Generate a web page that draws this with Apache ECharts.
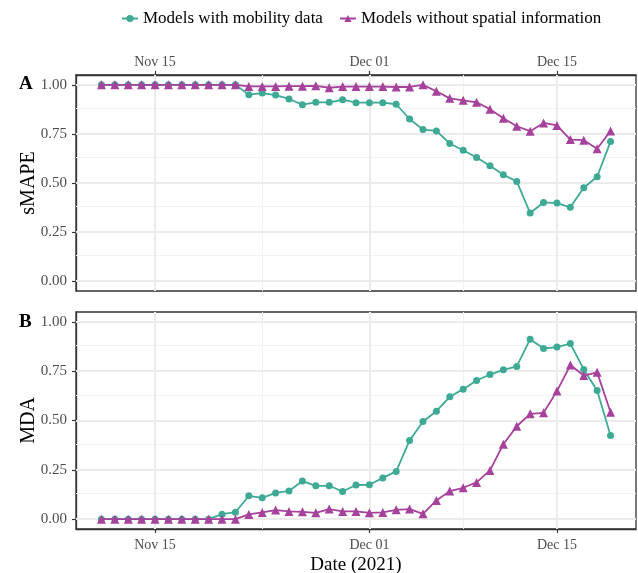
<!DOCTYPE html>
<html>
<head>
<meta charset="utf-8">
<script src="https://cdn.jsdelivr.net/npm/echarts@6/dist/echarts.min.js"></script>
<style>
  html, body { margin: 0; padding: 0; background: #fff; }
  #chart { width: 638px; height: 573px; }
</style>
</head>
<body>
<div id="chart"></div>
<script>
// daily forecast dates
const dates = [
  '2021-11-11', '2021-11-12', '2021-11-13', '2021-11-14', '2021-11-15', '2021-11-16',
  '2021-11-17', '2021-11-18', '2021-11-19', '2021-11-20', '2021-11-21', '2021-11-22',
  '2021-11-23', '2021-11-24', '2021-11-25', '2021-11-26', '2021-11-27', '2021-11-28',
  '2021-11-29', '2021-11-30', '2021-12-01', '2021-12-02', '2021-12-03', '2021-12-04',
  '2021-12-05', '2021-12-06', '2021-12-07', '2021-12-08', '2021-12-09', '2021-12-10',
  '2021-12-11', '2021-12-12', '2021-12-13', '2021-12-14', '2021-12-15', '2021-12-16',
  '2021-12-17', '2021-12-18', '2021-12-19'
];

const smapeMobility = [
  1, 1, 1, 1, 1, 1, 1, 1, 1, 1, 1,
  0.950, 0.958, 0.948, 0.928, 0.899, 0.911, 0.911, 0.924, 0.909,
  0.909, 0.909, 0.901, 0.826, 0.772, 0.765, 0.701, 0.667, 0.630, 0.588,
  0.542, 0.508, 0.347, 0.401, 0.398, 0.376, 0.476, 0.532, 0.711
];
const smapeNoSpatial = [
  1, 1, 1, 1, 1, 1, 1, 1, 1, 1, 1,
  0.992, 0.992, 0.992, 0.993, 0.993, 0.995, 0.985, 0.991, 0.991,
  0.991, 0.991, 0.989, 0.989, 1.000, 0.967, 0.931, 0.921, 0.911, 0.876,
  0.830, 0.789, 0.764, 0.806, 0.793, 0.721, 0.718, 0.674, 0.765
];
const mdaMobility = [
  0, 0, 0, 0, 0, 0, 0, 0, 0,
  0.025, 0.035, 0.118, 0.108, 0.133, 0.143, 0.193, 0.169, 0.169, 0.140, 0.173,
  0.174, 0.209, 0.242, 0.399, 0.495, 0.547, 0.620, 0.659, 0.703, 0.733,
  0.757, 0.774, 0.912, 0.865, 0.872, 0.890, 0.759, 0.652, 0.424
];
const mdaNoSpatial = [
  0, 0, 0, 0, 0, 0, 0, 0, 0, 0, 0,
  0.024, 0.034, 0.046, 0.039, 0.037, 0.032, 0.051, 0.039, 0.039,
  0.032, 0.034, 0.047, 0.051, 0.027, 0.095, 0.142, 0.159, 0.186, 0.247,
  0.380, 0.471, 0.534, 0.539, 0.649, 0.781, 0.728, 0.744, 0.542
];

const xMajor = ['2021-11-15', '2021-12-01', '2021-12-15'];
const xMinor = ['2021-11-23', '2021-12-08'];
const yMajor = [0, 0.25, 0.5, 0.75, 1];
const yMinor = [0.125, 0.375, 0.625, 0.875];

const seriesNames = ['Models with mobility data', 'Models without spatial information'];
const colors = ['#3eaa96', '#a6419c'];

const toTime = s => Date.parse(s + 'T00:00:00Z');
const MONTHS = ['Jan', 'Feb', 'Mar', 'Apr', 'May', 'Jun', 'Jul', 'Aug', 'Sep', 'Oct', 'Nov', 'Dec'];
const fmtDate = v => {
  const d = new Date(v);
  return MONTHS[d.getUTCMonth()] + ' ' + String(d.getUTCDate()).padStart(2, '0');
};

const xStart = toTime(dates[0]);
const xEnd = toTime(dates[dates.length - 1]);
const xPad = (xEnd - xStart) * 0.05;

const FONT = '"Liberation Serif", "DejaVu Serif", serif';
const grayText = '#4d4d4d';
const frame = '#333';

const chart = echarts.init(document.getElementById('chart'), null, { renderer: 'canvas' });

const makeX = (gridIndex, position) => ({
  type: 'value',
  gridIndex,
  position,
  min: xStart - xPad,
  max: xEnd + xPad,
  axisLine: { show: true, onZero: false, lineStyle: { color: frame, width: 1.3 } },
  splitLine: { show: false },
  axisTick: {
    show: true,
    inside: false,
    customValues: xMajor.map(toTime),
    length: 4,
    lineStyle: { color: frame, width: 1.2 }
  },
  axisLabel: {
    customValues: xMajor.map(toTime),
    formatter: fmtDate,
    color: grayText,
    fontFamily: FONT,
    fontSize: 14,
    margin: position === 'top' ? 6 : 9
  },
  name: gridIndex === 1 ? 'Date (2021)' : '',
  nameLocation: 'middle',
  nameGap: 27,
  nameMoveOverlap: false,
  nameTextStyle: { color: '#000', fontFamily: FONT, fontSize: 19 }
});

const makeY = (gridIndex, name) => ({
  type: 'value',
  gridIndex,
  min: -0.05,
  max: 1.05,
  axisLine: { show: true, onZero: false, lineStyle: { color: frame, width: 1.3 } },
  splitLine: { show: false },
  axisTick: {
    show: true,
    inside: false,
    customValues: yMajor,
    length: 4,
    lineStyle: { color: frame, width: 1.2 }
  },
  axisLabel: {
    customValues: yMajor,
    formatter: v => v.toFixed(2),
    color: grayText,
    fontFamily: FONT,
    fontSize: 15,
    margin: 9
  },
  name,
  nameLocation: 'middle',
  nameRotate: 90,
  nameGap: 37,
  nameMoveOverlap: false,
  nameTextStyle: { color: '#000', fontFamily: FONT, fontSize: 20 }
});

// background grid lines drawn as mark lines on an empty helper series
const gridLines = i => ({
  type: 'line',
  xAxisIndex: i,
  yAxisIndex: i,
  data: [],
  silent: true,
  z: 1,
  markLine: {
    silent: true,
    z: 1,
    symbol: 'none',
    label: { show: false },
    animation: false,
    data: [
      ...xMinor.map(d => ({ xAxis: toTime(d), lineStyle: { color: '#f2f2f2', width: 1, type: 'solid' } })),
      ...yMinor.map(v => ({ yAxis: v, lineStyle: { color: '#f2f2f2', width: 1, type: 'solid' } })),
      ...xMajor.map(d => ({ xAxis: toTime(d), lineStyle: { color: '#ebebeb', width: 2, type: 'solid' } })),
      ...yMajor.map(v => ({ yAxis: v, lineStyle: { color: '#ebebeb', width: 2, type: 'solid' } }))
    ]
  }
});

const dataSeries = (i, name, values, k) => ({
  type: 'line',
  name,
  xAxisIndex: i,
  yAxisIndex: i,
  data: dates.map((d, j) => [toTime(d), values[j]]),
  symbol: k === 0 ? 'circle' : 'triangle',
  symbolSize: k === 0 ? 7 : 9,
  showSymbol: true,
  color: colors[k],
  lineStyle: { width: 1.8, color: colors[k] },
  itemStyle: { color: colors[k] },
  z: 3 + k,
  animation: false
});

const gridBase = {
  left: 76, right: 2, show: true, borderColor: frame, borderWidth: 1.3,
  backgroundColor: '#fff', outerBoundsMode: 'none', containLabel: false
};

chart.setOption({
  animation: false,
  textStyle: { fontFamily: FONT },
  legend: {
    top: 5,
    left: 116,
    itemGap: 16,
    itemWidth: 16,
    itemHeight: 9,
    data: seriesNames,
    textStyle: { color: '#000', fontFamily: FONT, fontSize: 17 }
  },
  title: [
    { text: 'A', left: 14, top: 70, textStyle: { fontFamily: FONT, fontSize: 19, fontWeight: 'bold', color: '#000' } },
    { text: 'B', left: 14, top: 308, textStyle: { fontFamily: FONT, fontSize: 19, fontWeight: 'bold', color: '#000' } }
  ],
  grid: [
    Object.assign({ top: 75, height: 216 }, gridBase),
    Object.assign({ top: 312, height: 217 }, gridBase)
  ],
  xAxis: [makeX(0, 'top'), makeX(1, 'bottom')],
  yAxis: [makeY(0, 'sMAPE'), makeY(1, 'MDA')],
  series: [
    gridLines(0),
    gridLines(1),
    dataSeries(0, seriesNames[0], smapeMobility, 0),
    dataSeries(0, seriesNames[1], smapeNoSpatial, 1),
    dataSeries(1, seriesNames[0], mdaMobility, 0),
    dataSeries(1, seriesNames[1], mdaNoSpatial, 1)
  ]
});
</script>
</body>
</html>
